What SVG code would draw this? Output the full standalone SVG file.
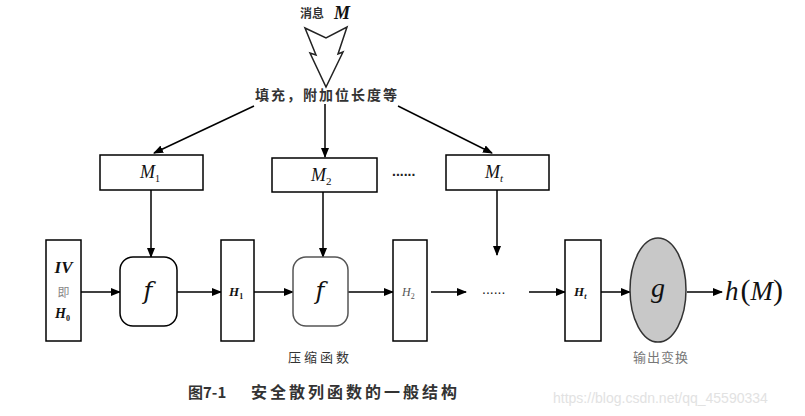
<svg xmlns="http://www.w3.org/2000/svg" width="805" height="416" viewBox="0 0 805 416">
<defs>
<marker id="ah" markerWidth="10" markerHeight="8" refX="9" refY="4" orient="auto" markerUnits="userSpaceOnUse">
<path d="M0,0 L10,4 L0,8 z" fill="#000"/>
</marker>
<style>
.box{fill:#fff;stroke:#000;stroke-width:1.5}
.ar{fill:none;stroke:#000;stroke-width:1.5;marker-end:url(#ah)}
.m{font-family:"Liberation Serif","DejaVu Serif",serif;font-style:italic;fill:#111}
.fx{font-family:"DejaVu Serif",serif;font-style:italic;fill:#111}
.cn{font-family:"Noto Sans CJK SC",sans-serif;fill:#333}
.dots{font-family:"Liberation Sans",sans-serif;fill:#222;font-size:14px}
</style>
</defs>
<rect width="805" height="416" fill="#fff"/>

<g id="title">
<text x="300" y="18" class="cn" font-size="12" font-weight="bold">消息</text>
<text x="334" y="19" class="m" font-size="18" font-weight="bold">M</text>
</g>

<g id="bigarrow">
<polygon points="305,28 326,38 347,27 338,54 343,52 326,87 310,53 316,55" fill="#fff" stroke="#222" stroke-width="1.5" stroke-linejoin="miter"/>
</g>

<g id="pad">
<text x="327" y="100" class="cn" font-size="14" letter-spacing="2" text-anchor="middle" font-weight="bold">填充，附加位长度等</text>
</g>

<g id="connectors">
<line class="ar" x1="254" y1="106" x2="154" y2="153"/>
<line class="ar" x1="325" y1="104" x2="325" y2="157"/>
<line class="ar" x1="398" y1="106" x2="492" y2="153"/>
<line class="ar" x1="151" y1="190" x2="151" y2="257"/>
<line class="ar" x1="323" y1="192" x2="323" y2="257"/>
<line class="ar" x1="497" y1="190" x2="497" y2="255"/>
<line class="ar" x1="81" y1="292" x2="120" y2="292"/>
<line class="ar" x1="177" y1="292" x2="221" y2="292"/>
<line class="ar" x1="254" y1="292" x2="293" y2="292"/>
<line class="ar" x1="348" y1="292" x2="393" y2="292"/>
<line class="ar" x1="431" y1="292" x2="466" y2="292"/>
<line class="ar" x1="529" y1="292" x2="565" y2="292"/>
<line class="ar" x1="601" y1="292" x2="630" y2="292"/>
<line class="ar" x1="687" y1="292" x2="722" y2="292"/>
</g>

<g id="M1">
<rect class="box" x="100" y="155" width="103" height="35"/>
<text x="140" y="178" class="m" font-size="18">M<tspan font-size="10" dy="4" font-style="normal">1</tspan></text>
</g>
<g id="M2">
<rect class="box" x="272" y="158" width="105" height="34"/>
<text x="311" y="181" class="m" font-size="18">M<tspan font-size="11" dy="4" font-style="normal">2</tspan></text>
</g>
<text x="392" y="176" class="dots" font-weight="bold">......</text>
<g id="Mt">
<rect class="box" x="446" y="155" width="103" height="35"/>
<text x="485" y="178" class="m" font-size="18">M<tspan font-size="11" dy="4">t</tspan></text>
</g>

<g id="IV">
<rect class="box" x="46" y="240" width="35" height="101"/>
<text x="63.5" y="273" class="m" font-size="17" font-weight="bold" text-anchor="middle">IV</text>
<text x="63.5" y="297" class="cn" font-size="12" text-anchor="middle" style="fill:#888">即</text>
<text x="55" y="318" class="m" font-size="14" font-weight="bold">H<tspan font-size="8" dy="3" font-style="normal">0</tspan></text>
</g>

<g id="f1">
<rect class="box" x="120" y="257" width="57" height="69" rx="13" ry="13"/>
<text x="148" y="299" class="fx" font-size="24" text-anchor="middle">f</text>
</g>

<g id="H1">
<rect class="box" x="221" y="240" width="33" height="101"/>
<text x="229" y="296" class="m" font-size="13" font-weight="bold">H<tspan font-size="8" dy="3" font-style="normal">1</tspan></text>
</g>

<g id="f2">
<rect class="box" x="293" y="257" width="55" height="69" rx="13" ry="13" style="stroke:#555"/>
<text x="320" y="299" class="fx" font-size="24" text-anchor="middle">f</text>
</g>
<text x="320" y="362" class="cn" font-size="13" letter-spacing="3" text-anchor="middle">压缩函数</text>

<g id="H2">
<rect class="box" x="393" y="240" width="34" height="101"/>
<text x="402" y="296" class="m" font-size="12" style="fill:#555">H<tspan font-size="8" dy="3" font-style="normal">2</tspan></text>
</g>

<text x="482" y="294" class="dots">......</text>

<g id="Ht">
<rect class="box" x="565" y="240" width="36" height="101"/>
<text x="574" y="296" class="m" font-size="13" font-weight="bold">H<tspan font-size="8" dy="3">t</tspan></text>
</g>

<g id="g">
<ellipse cx="658" cy="290" rx="28" ry="52" fill="#c8c8c8" stroke="#333" stroke-width="1.5"/>
<text x="658" y="297" class="m" font-size="28" text-anchor="middle">g</text>
</g>
<text x="661" y="362" class="cn" font-size="13" letter-spacing="1" text-anchor="middle" style="fill:#777">输出变换</text>

<g id="hM">
<text x="725" y="300" class="m" font-size="27">h<tspan font-style="normal" font-size="30" dx="2">(</tspan>M<tspan font-style="normal" font-size="30">)</tspan></text>
</g>

<g id="caption">
<text x="188" y="398" class="cn" font-size="15" font-weight="bold" style="fill:#333">图7-1</text>
<text x="251" y="398" class="cn" font-size="16" letter-spacing="3" font-weight="bold" style="fill:#333">安全散列函数的一般结构</text>
</g>
<text x="553" y="403" font-family="Liberation Sans,sans-serif" font-size="14" fill="#e2e2e2">https://blog.csdn.net/qq_45590334</text>
</svg>
